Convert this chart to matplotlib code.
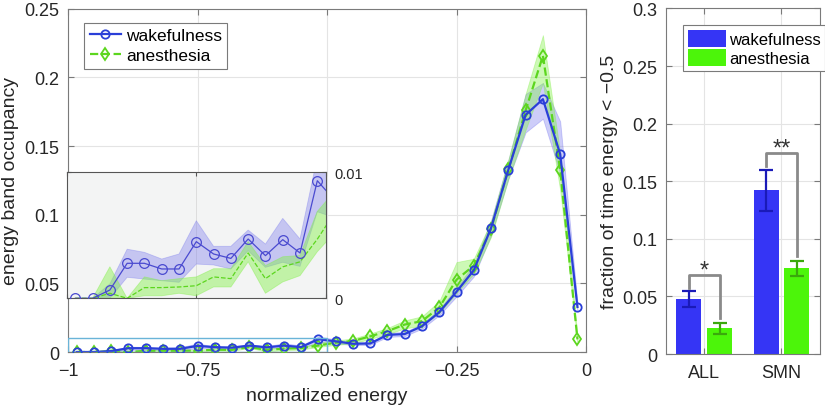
import numpy as np
import matplotlib.pyplot as plt
from matplotlib.patches import Rectangle

plt.rcParams['font.family'] = ['Liberation Sans', 'DejaVu Sans']

# ---- data: energy band occupancy (30 bins on [-1, 0]) ----
n_bins = 30
wake_mean = [0, 0, 0.00066, 0.00278, 0.00278, 0.00233, 0.00233, 0.0045, 0.00352, 0.00317,
             0.00471, 0.00339, 0.00466, 0.0036, 0.00934, 0.0078, 0.0060, 0.0062, 0.0125, 0.0131,
             0.0188, 0.029, 0.044, 0.0596, 0.0905, 0.1328, 0.1728, 0.1842, 0.1442, 0.0328]
wake_hi = [0, 0, 0.00114, 0.0039, 0.00365, 0.00312, 0.00352, 0.00616, 0.00413, 0.00413,
           0.00542, 0.00431, 0.00635, 0.00471, 0.0112, 0.0092, 0.0070, 0.0072, 0.0140, 0.0146,
           0.0205, 0.0312, 0.0470, 0.0640, 0.0960, 0.1400, 0.1880, 0.1960, 0.1680, 0.0360]
wake_lo = [0, 0, 0, 0.00167, 0.00153, 0.0014, 0.00127, 0.00272, 0.00265, 0.00233,
           0.00378, 0.00246, 0.00286, 0.00254, 0.00688, 0.0064, 0.0050, 0.0052, 0.0110, 0.0116,
           0.0170, 0.0268, 0.0405, 0.0550, 0.0850, 0.1260, 0.1600, 0.1700, 0.1300, 0.0300]

anes_mean = [0, 0, 0.0004, 0, 0.00085, 0.00085, 0.0009, 0.001, 0.0017, 0.00156,
             0.0036, 0.00156, 0.0025, 0.0029, 0.0047, 0.0068, 0.0080, 0.0114, 0.0152, 0.0200,
             0.0225, 0.0325, 0.0527, 0.0630, 0.0898, 0.1330, 0.1760, 0.2158, 0.1328, 0.0092]
anes_hi = [0, 0, 0.0025, 0, 0.0017, 0.0014, 0.00156, 0.0017, 0.00235, 0.00235,
           0.0045, 0.0026, 0.0033, 0.0034, 0.0069, 0.0085, 0.0098, 0.0135, 0.0175, 0.0230,
           0.0260, 0.0370, 0.0655, 0.0680, 0.0950, 0.1400, 0.1880, 0.2308, 0.1450, 0.0110]
anes_lo = [0, 0, 0, 0, 0.0002, 0.0002, 0.0004, 0.0002, 0.0009, 0.0009,
           0.0029, 0.0004, 0.0013, 0.0018, 0.0037, 0.0052, 0.0062, 0.0095, 0.0130, 0.0172,
           0.0192, 0.0285, 0.0430, 0.0570, 0.0840, 0.1260, 0.1620, 0.1960, 0.1180, 0.0075]

# ---- data: fraction of time with energy < -0.5 ----
groups = ['ALL', 'SMN']
frac_wake = [0.0477, 0.142]
frac_wake_err = [0.0068, 0.018]
frac_anes = [0.0223, 0.0743]
frac_anes_err = [0.0047, 0.0068]
sig_labels = ['*', '**']

x_ticks = [-1, -0.75, -0.5, -0.25, 0]
x_ticklabels = ['\u22121', '\u22120.75', '\u22120.5', '\u22120.25', '0']
y_ticks = [0, 0.05, 0.1, 0.15, 0.2, 0.25]
y_ticklabels = ['0', '0.05', '0.1', '0.15', '0.2', '0.25']
bar_ticks = [0, 0.05, 0.1, 0.15, 0.2, 0.25, 0.3]
bar_ticklabels = ['0', '0.05', '0.1', '0.15', '0.2', '0.25', '0.3']

WAKE = '#2a3fd8'
WAKE_FILL = '#7070ee'
ANES = '#5cd61e'
ANES_FILL = '#84f04a'
FRAME = '#7a7a7a'
TXT = '#262626'
GRID = '#e4e4e4'

x = -1 + (np.arange(n_bins) + 0.5) / n_bins

fig = plt.figure(figsize=(8.25, 4.1), dpi=100)


def matlab_style(ax, fs=13):
    ax.tick_params(direction='in', top=True, right=True, length=4, width=0.8,
                   colors=FRAME, labelcolor=TXT, labelsize=fs)
    ax.tick_params(axis='x', pad=7)
    ax.tick_params(axis='y', pad=6)
    for s in ax.spines.values():
        s.set_color(FRAME)
        s.set_linewidth(0.8)
    ax.grid(True, color=GRID, linewidth=0.8)
    ax.set_axisbelow(True)


# ---- main axes ----
ax = fig.add_axes([0.0824, 0.139, 0.628, 0.837])
matlab_style(ax)
ax.fill_between(x, wake_lo, wake_hi, color=WAKE_FILL, alpha=0.35, linewidth=0.6, edgecolor=WAKE_FILL)
ax.fill_between(x, anes_lo, anes_hi, color=ANES_FILL, alpha=0.4, linewidth=0.6, edgecolor=ANES_FILL)
ax.plot(x, anes_mean, '--', color=ANES, lw=1.6, marker='d', ms=6, mfc='none', mec=ANES, mew=1.3,
        label='anesthesia', zorder=3)
ax.plot(x, wake_mean, '-', color=WAKE, lw=1.6, marker='o', ms=6, mfc='none', mec=WAKE, mew=1.3,
        label='wakefulness', zorder=4)
ax.add_patch(Rectangle((-1, 0), 0.5, 0.01, fill=False, edgecolor='#6ab4d8', lw=1.0, zorder=5))
ax.set_xlim(-1, 0)
ax.set_ylim(0, 0.25)
ax.set_xticks(x_ticks)
ax.set_xticklabels(x_ticklabels)
ax.set_yticks(y_ticks)
ax.set_yticklabels(y_ticklabels)
ax.set_xlabel('normalized energy', fontsize=14, color=TXT, labelpad=6)
ax.set_ylabel('energy band occupancy', fontsize=14, color=TXT, labelpad=4)
h, l = ax.get_legend_handles_labels()
leg = ax.legend(h[::-1], l[::-1], loc='upper left', bbox_to_anchor=(0.015, 0.985), fontsize=12.5,
                fancybox=False, framealpha=1, edgecolor=FRAME, handlelength=1.8,
                handletextpad=0.3, borderpad=0.3, labelspacing=0.3)
leg.get_frame().set_linewidth(0.8)

# ---- inset ----
ins = fig.add_axes([0.0808, 0.270, 0.3143, 0.307])
ins.set_facecolor('#f3f4f4')
ins.tick_params(direction='in', length=3, colors='#555555', labelcolor=TXT, labelsize=10.5,
                left=True, right=True, top=True, bottom=True, labelleft=False,
                labelright=True, labelbottom=False)
for s in ins.spines.values():
    s.set_color('#555555')
    s.set_linewidth(0.8)
ins.grid(True, color='#dddddd', linewidth=0.7)
ins.set_axisbelow(True)
ins.fill_between(x, wake_lo, wake_hi, color=WAKE_FILL, alpha=0.35, linewidth=0.6, edgecolor=WAKE_FILL)
ins.fill_between(x, anes_lo, anes_hi, color=ANES_FILL, alpha=0.45, linewidth=0.6, edgecolor=ANES_FILL)
ins.plot(x, anes_mean, '--', color=ANES, lw=0.9, zorder=3)
ins.plot(x, wake_mean, '-', color='#4a4ad0', lw=0.9, marker='o', ms=7, mfc='none',
         mec='#4a4ad0', mew=0.9, zorder=4)
ins.set_xlim(-1, -0.5)
ins.set_ylim(0, 0.01)
ins.set_xticks([-1, -0.75, -0.5])
ins.set_yticks([0, 0.01])
ins.set_yticklabels(['0', '0.01'])
ins.tick_params(axis='y', pad=6)

# ---- bar panel ----
bx = fig.add_axes([0.807, 0.134, 0.187, 0.843])
matlab_style(bx)
pos = np.arange(1, len(groups) + 1)
off = 0.2
w = 0.325
bx.bar(pos - off, frac_wake, w, color='#3535f5', zorder=2, label='wakefulness')
bx.bar(pos + off, frac_anes, w, color='#4cf50a', zorder=2, label='anesthesia')
bx.errorbar(pos - off, frac_wake, yerr=frac_wake_err, fmt='none', ecolor='#1a1ab8',
            elinewidth=1.6, capsize=5, capthick=1.6, zorder=3)
bx.errorbar(pos + off, frac_anes, yerr=frac_anes_err, fmt='none', ecolor='#3aa80c',
            elinewidth=1.6, capsize=5, capthick=1.6, zorder=3)
for i in range(len(groups)):
    top_l = frac_wake[i] + frac_wake_err[i]
    top_r = frac_anes[i] + frac_anes_err[i]
    yb = max(top_l, top_r) + 0.0145
    bx.plot([pos[i] - off, pos[i] - off, pos[i] + off, pos[i] + off],
            [top_l + 0.003, yb, yb, top_r + 0.004], color='#8a8a8a', lw=2, zorder=4)
    bx.text(pos[i], yb - 0.006, sig_labels[i], ha='center', va='bottom', fontsize=17,
            color='#333333', zorder=5)
bx.set_xlim(0.5, 2.5)
bx.set_ylim(0, 0.3)
bx.set_xticks(pos)
bx.set_xticklabels(groups)
bx.set_yticks(bar_ticks)
bx.set_yticklabels(bar_ticklabels)
bx.set_ylabel('fraction of time energy < \u22120.5', fontsize=14, color=TXT, labelpad=3)
leg2 = bx.legend(loc='upper left', bbox_to_anchor=(0.06, 0.975), fontsize=12, fancybox=False,
                 framealpha=1, edgecolor=FRAME, handlelength=2.3, handleheight=1.2,
                 handletextpad=0.2, borderpad=0.25, labelspacing=0.15)
leg2.get_frame().set_linewidth(0.8)

fig.savefig('out.png', dpi=100)
